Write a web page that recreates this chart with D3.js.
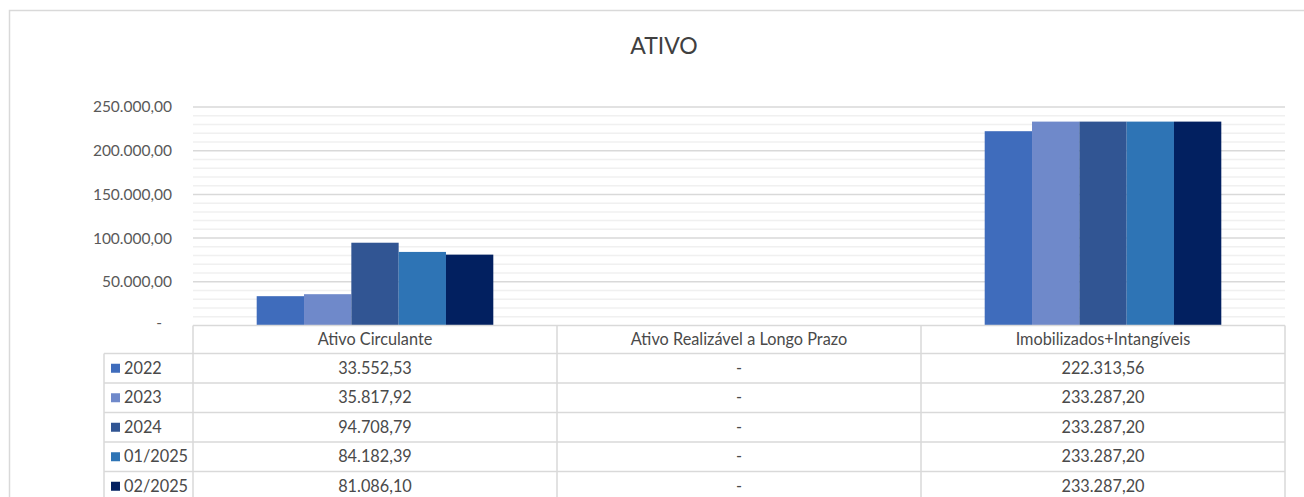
<!DOCTYPE html>
<html>
<head>
<meta charset="utf-8">
<script src="https://cdn.jsdelivr.net/npm/d3@7"></script>
<style>
  body { margin: 0; background: #fff; }
  svg text { font-family: Lato, "Open Sans", sans-serif; fill: #4a4a4a; }
</style>
</head>
<body>
<div id="chart"></div>
<script>
const width = 1304;
const height = 497;

// dados
const categories = ["Ativo Circulante", "Ativo Realizável a Longo Prazo", "Imobilizados+Intangíveis"];
const series = ["2022", "2023", "2024", "01/2025", "02/2025"];
const v2022 = [33552.53, 0, 222313.56];
const v2023 = [35817.92, 0, 233287.20];
const v2024 = [94708.79, 0, 233287.20];
const v012025 = [84182.39, 0, 233287.20];
const v022025 = [81086.10, 0, 233287.20];
const values = [v2022, v2023, v2024, v012025, v022025];
const colors = ["#3f6cbc", "#6f89ca", "#315593", "#2e74b5", "#022060"];

const plot = {left: 193, right: 1285, top: 107, bottom: 325.5};
const rowTop = 353.5;
const rowH = 29.5;
const legendLeft = 104;

const br = d3.formatLocale({decimal: ",", thousands: ".", grouping: [3], currency: ["R$", ""]});
const fmt = (v) => v === 0 ? "-" : br.format(",.2f")(v);

const svg = d3.select("#chart")
    .append("svg")
    .attr("width", width)
    .attr("height", height);

// moldura
svg.append("rect")
    .attr("x", 9.5).attr("y", 10.5)
    .attr("width", 1320).attr("height", 520)
    .attr("fill", "none")
    .attr("stroke", "#d9d9d9")
    .attr("stroke-width", 1.5);

svg.append("text")
    .attr("x", 664).attr("y", 54)
    .attr("text-anchor", "middle")
    .style("font-size", "23px")
    .style("fill", "#404040")
    .text("ATIVO");

const x = d3.scaleBand()
    .domain(categories)
    .range([plot.left, plot.right]);

const groupW = x.bandwidth() * 0.65;
const xs = d3.scaleBand()
    .domain(series)
    .range([0, groupW]);

const y = d3.scaleLinear()
    .domain([0, 250000])
    .range([plot.bottom, plot.top]);

// linhas de grade
svg.append("g")
    .selectAll("line")
    .data(y.ticks(25).filter(d => d % 50000 !== 0))
    .join("line")
    .attr("x1", plot.left).attr("x2", plot.right)
    .attr("y1", d => y(d)).attr("y2", d => y(d))
    .attr("stroke", "#f0f0f0")
    .attr("stroke-width", 1.5);

svg.append("g")
    .selectAll("line")
    .data(y.ticks(5).filter(d => d > 0))
    .join("line")
    .attr("x1", plot.left).attr("x2", plot.right)
    .attr("y1", d => y(d)).attr("y2", d => y(d))
    .attr("stroke", "#d9d9d9")
    .attr("stroke-width", 1.5);

const yAxis = svg.append("g")
    .attr("transform", `translate(${plot.left - 21},0)`)
    .call(d3.axisLeft(y).ticks(5).tickSize(0).tickFormat(fmt));
yAxis.select(".domain").remove();
yAxis.selectAll("text")
    .attr("x", 0)
    .style("font-size", "15.5px")
    .style("fill", "#595959")
    .style("font-family", "Lato, sans-serif");
yAxis.selectAll(".tick")
    .filter(d => d === 0)
    .select("text")
    .attr("x", -10)
    .attr("dy", "0.1em");

// barras
svg.append("g")
    .selectAll("g")
    .data(series)
    .join("g")
    .attr("fill", (d, i) => colors[i])
    .selectAll("rect")
    .data((s, i) => categories.map((c, j) => ({c, s, v: values[i][j]})))
    .join("rect")
    .attr("x", d => x(d.c) + (x.bandwidth() - groupW) / 2 + xs(d.s))
    .attr("y", d => y(d.v))
    .attr("width", xs.bandwidth())
    .attr("height", d => plot.bottom - y(d.v));

// tabela de dados
const grid = svg.append("g")
    .attr("stroke", "#d9d9d9")
    .attr("stroke-width", 1.5);

grid.append("line")
    .attr("x1", plot.left).attr("x2", plot.right)
    .attr("y1", plot.bottom).attr("y2", plot.bottom);

grid.selectAll(".row")
    .data(series)
    .join("line")
    .attr("class", "row")
    .attr("x1", legendLeft).attr("x2", plot.right)
    .attr("y1", (d, i) => rowTop + i * rowH)
    .attr("y2", (d, i) => rowTop + i * rowH);

grid.selectAll(".col")
    .data(categories)
    .join("line")
    .attr("class", "col")
    .attr("x1", d => x(d)).attr("x2", d => x(d))
    .attr("y1", plot.bottom).attr("y2", height);

grid.append("line")
    .attr("x1", plot.right).attr("x2", plot.right)
    .attr("y1", plot.bottom).attr("y2", height);

grid.append("line")
    .attr("x1", legendLeft).attr("x2", legendLeft)
    .attr("y1", rowTop).attr("y2", height);

svg.append("g")
    .selectAll("text")
    .data(categories)
    .join("text")
    .attr("x", d => x(d) + x.bandwidth() / 2)
    .attr("y", (plot.bottom + rowTop) / 2)
    .attr("dy", "0.35em")
    .attr("text-anchor", "middle")
    .style("font-size", "16.3px")
    .text(d => d);

const rows = svg.append("g")
    .selectAll("g")
    .data(series)
    .join("g")
    .attr("transform", (d, i) => `translate(0,${rowTop + i * rowH + rowH / 2})`);

rows.append("rect")
    .attr("x", 111).attr("y", -4.5)
    .attr("width", 9).attr("height", 9)
    .attr("fill", (d, i) => colors[i]);

rows.append("text")
    .attr("x", 124)
    .attr("dy", "0.35em")
    .style("font-size", "16.3px")
    .text(d => d);

rows.selectAll(".val")
    .data((s, i) => categories.map((c, j) => ({c, v: values[i][j]})))
    .join("text")
    .attr("class", "val")
    .attr("x", d => x(d.c) + x.bandwidth() / 2)
    .attr("dy", "0.35em")
    .attr("text-anchor", "middle")
    .style("font-size", "16.3px")
    .text(d => fmt(d.v));
</script>
</body>
</html>
